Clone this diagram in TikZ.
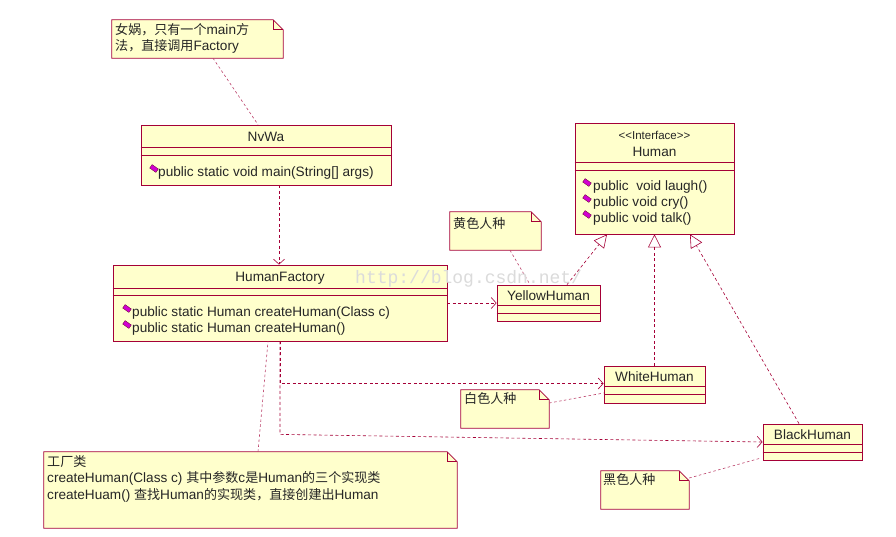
\documentclass[tikz,border=0pt]{standalone}
\usepackage{fontspec}
\setmainfont{Liberation Sans}
\newfontfamily\cjk[Scale=0.96]{Noto Sans CJK SC}
\newfontfamily\wmfont{Liberation Mono}
\usetikzlibrary{arrows.meta,calc}
\definecolor{umlred}{RGB}{165,0,55}
\definecolor{umlfill}{RGB}{255,255,204}
\definecolor{iconc}{RGB}{210,0,210}
\newcommand\zh[1]{{\cjk #1}}
\newcommand\notepath[1]{%
  \filldraw[notestyle] (#1.south west) -- (#1.north west) -- ([xshift=-10pt]#1.north east) -- ([yshift=-10pt]#1.north east) -- (#1.south east) -- cycle;
  \draw[notestyle,fill=none] ([xshift=-10pt]#1.north east) -- ([xshift=-10pt,yshift=-10pt]#1.north east) -- ([yshift=-10pt]#1.north east);}
\newcommand\comp[3]{\draw[umlred,line width=0.8pt] (#1.west |- 0,#2) -- (#1.east |- 0,#2); \draw[umlred,line width=0.8pt] (#1.west |- 0,#3) -- (#1.east |- 0,#3);}
\tikzset{
  cls/.style={draw=umlred, fill=umlfill, line width=0.8pt, inner sep=0pt},
  notestyle/.style={draw=umlred, fill=umlfill, line width=0.8pt},
  notebox/.style={inner sep=0pt},
  lbl/.style={inner sep=0pt, font=\fontsize{13.6}{16}\selectfont, text=black!85},
  dep/.style={draw=umlred, line width=0.6pt, dash pattern=on 3pt off 2.5pt, -{Straight Barb[length=5pt,width=11pt]}},
  real/.style={draw=umlred, line width=0.6pt, dash pattern=on 3pt off 2.5pt, -{Triangle[open,length=13pt,width=13pt]}},
  attach/.style={draw=umlred!75, line width=0.6pt, dash pattern=on 2.5pt off 2.5pt},
  mico/.pic={\draw[fill=iconc, draw=purple!50!black, line width=0.3pt, rotate=-35] (-3.8,-2.1) rectangle (3.8,2.1);}
}
\begin{document}
\begin{tikzpicture}[x=1pt,y=-1pt]
\useasboundingbox (0,0) rectangle (896,536);
\fill[white] (0,0) rectangle (896,536);

% ---- classes ----
\node[cls, minimum width=250, minimum height=60] (nvwa) at (266,155) {};
\comp{nvwa}{147}{155}
\node[lbl] (nvwaname) at (266,137) {NvWa};
\pic at (154,168.5) {mico};
\node[lbl, anchor=west] (nvwam) at (158,173) {public static void main(String[] args)};

\node[cls, minimum width=334, minimum height=76] (hf) at (280,303) {};
\comp{hf}{288}{295}
\node[lbl] (hfname) at (280,278) {HumanFactory};
\pic at (127,308.5) {mico};
\node[lbl, anchor=west] (hfm1) at (132,313) {public static Human createHuman(Class c)};
\pic at (127,324.5) {mico};
\node[lbl, anchor=west] (hfm2) at (132,329) {public static Human createHuman()};

\node[cls, minimum width=159, minimum height=111] (human) at (654.5,178.5) {};
\comp{human}{162}{170}
\node[lbl, font=\fontsize{11.5}{13}\selectfont] (st) at (654.5,135) {{<}{<}Interface{>}{>}};
\node[lbl] (humanname) at (654.5,152) {Human};
\pic at (587,182.5) {mico};
\node[lbl, anchor=west] (hm1) at (593,187) {public\ \ void laugh()};
\pic at (587,198.5) {mico};
\node[lbl, anchor=west] (hm2) at (593,203) {public void cry()};
\pic at (587,214.5) {mico};
\node[lbl, anchor=west] (hm3) at (593,219) {public void talk()};

\node[cls, minimum width=103, minimum height=36] (yellow) at (548.5,303) {};
\comp{yellow}{305}{313}
\node[lbl] (yname) at (548.5,296) {YellowHuman};

\node[cls, minimum width=101, minimum height=37] (white) at (654.5,384.5) {};
\comp{white}{386}{394}
\node[lbl] (wname) at (654.5,377) {WhiteHuman};

\node[cls, minimum width=99, minimum height=36] (black) at (812.5,442) {};
\comp{black}{444}{452}
\node[lbl] (bname) at (812.5,435) {BlackHuman};

% ---- notes ----
\node[notebox, minimum width=171, minimum height=38] (n1) at (197.5,39) {};
\notepath{n1}
\node[lbl, anchor=north west, align=left, font=\fontsize{13.6}{16.5}\selectfont] (n1t) at (115,23) {\zh{女娲，只有一个}main\zh{方}\\\zh{法，直接调用}Factory};

\node[notebox, minimum width=91, minimum height=38] (n2) at (495.5,231) {};
\notepath{n2}
\node[lbl, anchor=west] (n2t) at (453,224) {\zh{黄色人种}};

\node[notebox, minimum width=88, minimum height=38] (n3) at (505,409) {};
\notepath{n3}
\node[lbl, anchor=west] (n3t) at (464,399) {\zh{白色人种}};

\node[notebox, minimum width=88, minimum height=38] (n4) at (645,490) {};
\notepath{n4}
\node[lbl, anchor=west] (n4t) at (603,480) {\zh{黑色人种}};

\node[notebox, minimum width=413, minimum height=76] (n5) at (250.5,490) {};
\notepath{n5}
\node[lbl, anchor=north west, align=left, font=\fontsize{13.6}{16.5}\selectfont] (n5t) at (47,455) {\zh{工厂类}\\createHuman(Class c) \zh{其中参数}c\zh{是}Human\zh{的三个实现类}\\createHuam() \zh{查找}Human\zh{的实现类，直接创建出}Human};

% ---- connectors ----
\draw[attach] ([xshift=15.5pt]n1.south) -- ([xshift=-8pt]nvwa.north);
\draw[dep] ([xshift=13pt]nvwa.south) -- ([xshift=-1pt]hf.north);
\draw[dep] (hf.east) -- (yellow.west);
\draw[attach] ([xshift=14.5pt]n2.south) -- ([xshift=-18.5pt]yellow.north);
\draw[real] ([xshift=18.5pt]yellow.north) -- ([xshift=-47.5pt]human.south);
\draw[real] (white.north) -- (human.south);
\draw[real] ([xshift=-13.5pt]black.north) -- ([xshift=35.5pt]human.south);
\draw[dep] (hf.south) |- ([yshift=1pt]white.west);
\draw[dep] (hf.south) -- ++(0,93) -- (black.west);
\draw[attach] ([yshift=6pt]n3.east) -- ([yshift=-8.5pt]white.west);
\draw[attach] ([yshift=12pt]n4.east) -- ([xshift=-3pt,yshift=2pt]black.south west);
\draw[attach] ([xshift=7.5pt]n5.north) -- ([xshift=-12pt]hf.south);

% ---- watermark ----
\node[inner sep=0pt, anchor=west, text=black!14, font=\wmfont\fontsize{18}{18}\selectfont] (wm) at (355,279) {http://blog.csdn.net/};
\end{tikzpicture}
\end{document}
